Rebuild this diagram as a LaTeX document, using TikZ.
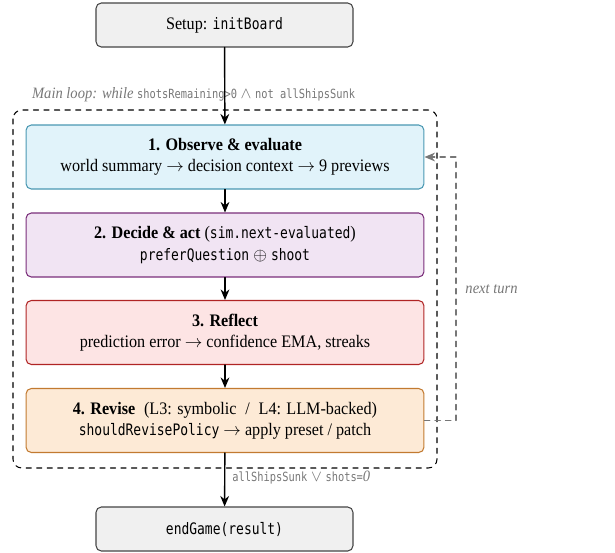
\documentclass[tikz,border=0pt]{standalone}
\usepackage{fontspec}
\setmainfont{Liberation Serif}[FakeStretch=0.92]
\setmonofont{DejaVu Sans Mono}[Scale=0.9,FakeStretch=0.82]
\usetikzlibrary{arrows.meta}
\definecolor{endfill}{HTML}{F0F0F0}
\definecolor{endline}{HTML}{444444}
\definecolor{obsfill}{HTML}{E1F3FA}
\definecolor{obsline}{HTML}{4A98B2}
\definecolor{decfill}{HTML}{F1E4F3}
\definecolor{decline}{HTML}{7A2E7A}
\definecolor{reffill}{HTML}{FDE4E4}
\definecolor{refline}{HTML}{B02424}
\definecolor{revfill}{HTML}{FDEAD6}
\definecolor{revline}{HTML}{C27A30}
\definecolor{notegray}{HTML}{777777}
\newcommand{\notett}[1]{{\footnotesize\ttfamily #1}}

\begin{document}
\begin{tikzpicture}
  [x=0.02cm,y=-0.02cm,line cap=round,line join=round,
   stage/.style={draw,rounded corners=3pt,line width=0.6pt,align=center,
     minimum width=7.96cm,minimum height=1.28cm,inner sep=2pt},
   endbox/.style={draw=endline,fill=endfill,rounded corners=3pt,line width=0.6pt,
     minimum width=5.14cm,minimum height=0.88cm},
   flow/.style={-{Stealth[length=6pt,width=5pt]},line width=0.8pt},
   loopback/.style={-{Stealth[length=6pt,width=5pt]},draw=notegray,dashed,line width=0.8pt},
   note/.style={text=notegray,font=\small,inner sep=1pt}]
  \useasboundingbox (0,0) rectangle (615,552);

  % start and end
  \node[endbox] (setup) at (224.5,25) {Setup: \texttt{initBoard}};
  \node[endbox] (endgame) at (224.5,529) {\texttt{endGame(result)}};

  % loop frame and its caption
  \node[note,anchor=west] (looplabel) at (30,95)
    {\textit{Main loop: while} \notett{shotsRemaining>0} $\wedge$ \notett{not allShipsSunk}};
  \draw[dashed,rounded corners=5pt,line width=0.6pt] (13,110) rectangle (437,468);

  % the four stages
  \node[stage,draw=obsline,fill=obsfill] (obs) at (225,157)
    {\textbf{1. Observe \& evaluate}\\
     world summary $\rightarrow$ decision context $\rightarrow$ 9 previews};
  \node[stage,draw=decline,fill=decfill] (dec) at (225,245)
    {\textbf{2. Decide \& act} (\texttt{sim.next-evaluated})\\
     \texttt{preferQuestion} $\oplus$ \texttt{shoot}};
  \node[stage,draw=refline,fill=reffill] (ref) at (225,332.5)
    {\textbf{3. Reflect}\\
     prediction error $\rightarrow$ confidence EMA, streaks};
  \node[stage,draw=revline,fill=revfill] (rev) at (225,420.5)
    {\textbf{4. Revise}\enspace(L3: symbolic\enspace/\enspace L4: LLM-backed)\\
     \texttt{shouldRevisePolicy} $\rightarrow$ apply preset / patch};

  \draw[flow] (setup) -- (obs);
  \draw[flow] (obs) -- (dec);
  \draw[flow] (dec) -- (ref);
  \draw[flow] (ref) -- (rev);
  \draw[flow] (rev) -- (endgame)
    node[note,pos=0.45,anchor=west,xshift=3pt] (exitlabel)
    {\notett{allShipsSunk} $\vee$ \notett{shots=}\textit{0}};

  % back edge
  \draw[loopback] (rev.east) -- (456,420.5) |- (obs.east)
    node[note,pos=0.25,anchor=west,xshift=4pt] (nextlabel) {\textit{next turn}};
\end{tikzpicture}
\end{document}
